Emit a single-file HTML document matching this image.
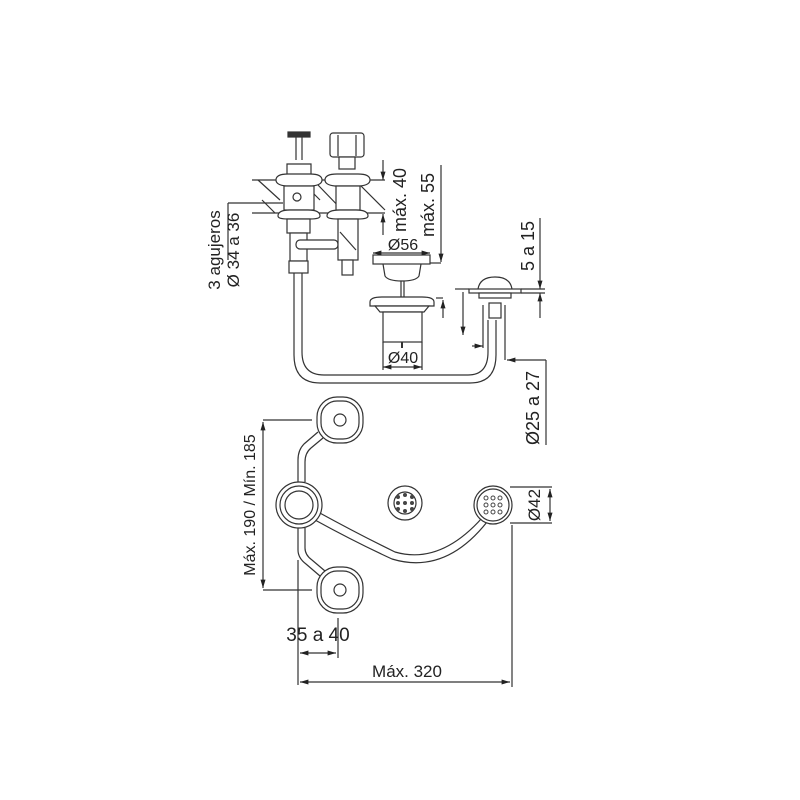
<!DOCTYPE html>
<html><head><meta charset="utf-8"><style>
html,body{margin:0;padding:0;background:#fff;}
svg{display:block}
text{font-family:"Liberation Sans",sans-serif;fill:#222}
</style></head><body>
<svg width="800" height="800" viewBox="0 0 800 800" xmlns="http://www.w3.org/2000/svg">
<defs>
<marker id="a" viewBox="0 0 10 10" refX="10" refY="5" markerWidth="7" markerHeight="7" orient="auto-start-reverse"><path d="M0,2 L10,5 L0,8 z" fill="#222"/></marker>
</defs>
<g stroke="#333" stroke-width="1.2" fill="none">
<line x1="252" y1="180" x2="385" y2="180"/>
<line x1="252" y1="213" x2="385" y2="213"/>
<path d="M258,180 L280,200 M300,180 L320,200 M318,185 L345,213 M355,180 L385,210 M262,200 L275,213"/>
<rect x="288" y="132" width="22" height="5" fill="#333"/>
<line x1="296" y1="137" x2="296" y2="160"/><line x1="302" y1="137" x2="302" y2="160"/>
<path d="M287,176 L287,164 L311,164 L311,176"/>
<path d="M276,180 Q276,174 288,174 L310,174 Q322,174 322,180 Q322,185 312,186 L286,186 Q276,185 276,180z" fill="#fff"/>
<rect x="284" y="186" width="30" height="24" fill="#fff"/>
<circle cx="297" cy="197" r="4"/>
<path d="M278,216 Q278,210 290,210 L308,210 Q320,210 320,216 Q320,219 310,219 L288,219 Q278,219 278,216z" fill="#fff"/>
<rect x="287" y="219" width="23" height="14" fill="#fff"/>
<rect x="290" y="233" width="17" height="28" fill="#fff"/>
<rect x="296" y="240" width="42" height="9" rx="4" fill="#fff"/>
<rect x="289" y="261" width="19" height="12" fill="#fff"/>
<rect x="330" y="133" width="34" height="24" rx="3" fill="#fff"/>
<line x1="338" y1="135" x2="338" y2="156"/><line x1="356" y1="135" x2="356" y2="156"/>
<rect x="339" y="157" width="16" height="12" fill="#fff"/>
<path d="M325,180 Q325,174 337,174 L358,174 Q370,174 370,180 Q370,185 360,186 L335,186 Q325,185 325,180z" fill="#fff"/>
<rect x="336" y="186" width="24" height="24" fill="#fff"/>
<path d="M327,216 Q327,210 340,210 L356,210 Q368,210 368,216 Q368,219 358,219 L338,219 Q327,219 327,216z" fill="#fff"/>
<rect x="338" y="219" width="20" height="41" fill="#fff"/>
<line x1="340" y1="232" x2="356" y2="250"/>
<rect x="342" y="260" width="11" height="15" fill="#fff"/>
<path d="M294,273 L294,355 Q294,383 320,383 L470,383 Q496,383 496,355 L496,320"/>
<path d="M302,273 L302,352 Q302,375 324,375 L468,375 Q488,375 488,352 L488,320"/>
<rect x="373" y="255" width="57" height="9" fill="#fff"/>
<path d="M383,264 L385,276 Q388,281 402,281 Q416,281 419,276 L421,264"/>
<line x1="401" y1="281" x2="401" y2="298"/><line x1="404" y1="281" x2="404" y2="298"/>
<path d="M370,302 Q370,297 382,297 L422,297 Q434,297 434,302 L434,306 L370,306z" fill="#fff"/>
<path d="M375,306 L429,306 L424,312 L380,312z" fill="#fff"/>
<rect x="383" y="312" width="39" height="30" fill="#fff"/>
<line x1="402" y1="342" x2="402" y2="348" stroke-width="2"/>
<path d="M478,289 Q480,277 495,277 Q510,277 512,289" fill="#fff"/>
<rect x="469" y="289" width="52" height="4" fill="#fff"/>
<rect x="479" y="293" width="32" height="5" fill="#fff"/>
<rect x="489" y="303" width="12" height="15" fill="#fff"/>
<line x1="228" y1="203" x2="283" y2="203"/>
<line x1="228" y1="203" x2="228" y2="260"/>
<line x1="383" y1="160" x2="383" y2="180" marker-end="url(#a)"/>
<line x1="383" y1="235" x2="383" y2="214" marker-end="url(#a)"/>
<line x1="441" y1="165" x2="441" y2="262" marker-end="url(#a)"/>
<line x1="430" y1="263" x2="441" y2="263"/>
<line x1="373" y1="253" x2="430" y2="253" marker-start="url(#a)" marker-end="url(#a)"/>
<line x1="383" y1="367" x2="422" y2="367" marker-start="url(#a)" marker-end="url(#a)"/>
<line x1="383" y1="342" x2="383" y2="370"/><line x1="422" y1="342" x2="422" y2="370"/>
<line x1="436" y1="298" x2="443" y2="298"/>
<line x1="443" y1="318" x2="443" y2="300" marker-end="url(#a)"/>
<line x1="455" y1="289" x2="469" y2="289"/>
<line x1="463" y1="292" x2="463" y2="335" marker-end="url(#a)"/>
<line x1="521" y1="289" x2="545" y2="289"/><line x1="521" y1="293" x2="545" y2="293"/>
<line x1="540" y1="218" x2="540" y2="289" marker-end="url(#a)"/>
<line x1="540" y1="318" x2="540" y2="293" marker-end="url(#a)"/>
<line x1="483" y1="305" x2="483" y2="348"/>
<line x1="472" y1="346" x2="483" y2="346" marker-end="url(#a)"/>
<line x1="505" y1="305" x2="505" y2="360"/>
<line x1="546" y1="360" x2="507" y2="360" marker-end="url(#a)"/>
<line x1="546" y1="360" x2="546" y2="445"/>
<path d="M318,432 L304,444 Q298,450 298,460 L298,482"/>
<path d="M323,438 L311,448 Q305,453 305,462 L305,482"/>
<path d="M298,528 L298,550 Q298,558 306,564 L320,576"/>
<path d="M305,528 L305,548 Q305,555 312,560 L325,571"/>
<path d="M318,512 Q360,535 395,552 Q440,565 482,518"/>
<path d="M315,520 Q355,542 392,559 Q445,575 487,522"/>
<rect x="317" y="397" width="46" height="46" rx="20" fill="#fff"/>
<rect x="321" y="401" width="38" height="38" rx="16"/>
<circle cx="340" cy="420" r="6"/>
<rect x="317" y="567" width="46" height="46" rx="20" fill="#fff"/>
<rect x="321" y="571" width="38" height="38" rx="16"/>
<circle cx="340" cy="590" r="6"/>
<circle cx="299" cy="505" r="23" fill="#fff"/><circle cx="299" cy="505" r="19"/><circle cx="299" cy="505" r="14"/>
<circle cx="405" cy="503" r="17"/><circle cx="405" cy="503" r="11"/>
<circle cx="493" cy="505" r="19" fill="#fff"/><circle cx="493" cy="505" r="16"/>
<line x1="263" y1="420" x2="312" y2="420"/><line x1="263" y1="590" x2="312" y2="590"/>
<line x1="263" y1="422" x2="263" y2="588" marker-start="url(#a)" marker-end="url(#a)"/>
<line x1="510" y1="487" x2="552" y2="487"/><line x1="510" y1="523" x2="552" y2="523"/>
<line x1="550" y1="489" x2="550" y2="521" marker-start="url(#a)" marker-end="url(#a)"/>
<line x1="298" y1="560" x2="298" y2="685"/>
<line x1="338" y1="618" x2="338" y2="658"/>
<line x1="512" y1="525" x2="512" y2="687"/>
<line x1="300" y1="653" x2="336" y2="653" marker-start="url(#a)" marker-end="url(#a)"/>
<line x1="300" y1="682" x2="510" y2="682" marker-start="url(#a)" marker-end="url(#a)"/>
</g>
<g fill="#444">
<circle cx="398" cy="497" r="2"/><circle cx="405" cy="495" r="2"/><circle cx="412" cy="497" r="2"/>
<circle cx="398" cy="503" r="2"/><circle cx="405" cy="503" r="2"/><circle cx="412" cy="503" r="2"/>
<circle cx="398" cy="509" r="2"/><circle cx="405" cy="511" r="2"/><circle cx="412" cy="509" r="2"/>
</g>
<g fill="none" stroke="#444" stroke-width="1">
<circle cx="486" cy="498" r="2"/><circle cx="493" cy="498" r="2"/><circle cx="500" cy="498" r="2"/>
<circle cx="486" cy="505" r="2"/><circle cx="493" cy="505" r="2"/><circle cx="500" cy="505" r="2"/>
<circle cx="486" cy="512" r="2"/><circle cx="493" cy="512" r="2"/><circle cx="500" cy="512" r="2"/>
</g>
<g font-size="16">
<text transform="translate(220,250) rotate(-90)" text-anchor="middle" font-size="17">3 agujeros</text>
<text transform="translate(239,250) rotate(-90)" text-anchor="middle" font-size="17">Ø 34 a 36</text>
<text transform="translate(406,200) rotate(-90)" text-anchor="middle" font-size="18">máx. 40</text>
<text transform="translate(434,205) rotate(-90)" text-anchor="middle" font-size="18">máx. 55</text>
<text x="403" y="250" text-anchor="middle">Ø56</text>
<text x="403" y="363" text-anchor="middle">Ø40</text>
<text transform="translate(534,246) rotate(-90)" text-anchor="middle" font-size="18">5 a 15</text>
<text transform="translate(539,408) rotate(-90)" text-anchor="middle" font-size="18">Ø25 a 27</text>
<text transform="translate(255,505) rotate(-90)" text-anchor="middle" font-size="16">Máx. 190 / Mín. 185</text>
<text transform="translate(540,505) rotate(-90)" text-anchor="middle" font-size="17">Ø42</text>
<text x="318" y="641" text-anchor="middle" font-size="19">35 a 40</text>
<text x="407" y="677" text-anchor="middle" font-size="17">Máx. 320</text>
</g>
</svg>
</body></html>
